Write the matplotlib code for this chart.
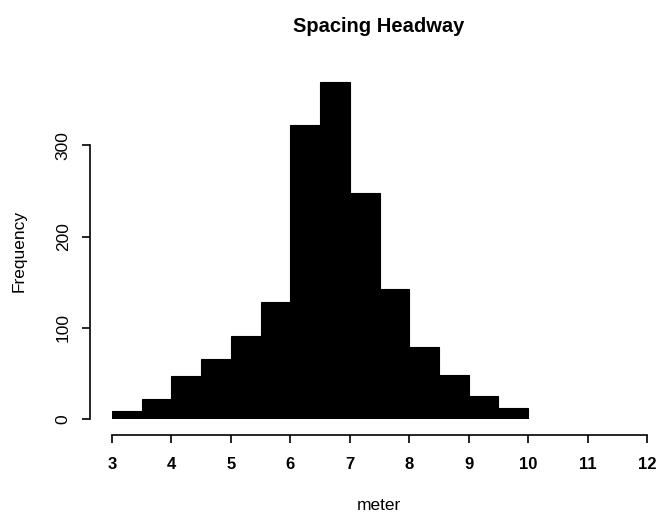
import numpy as np
import matplotlib.pyplot as plt

plt.rcParams['font.family'] = ['Liberation Sans', 'DejaVu Sans']

# histogram of spacing headway, 0.5 m bins from 3 to 10
bin_edges = np.arange(3, 10.01, 0.5)
counts = [9, 22, 47, 66, 91, 128, 322, 369, 248, 143, 79, 49, 25, 12]
x_ticks = [3, 4, 5, 6, 7, 8, 9, 10, 11, 12]
y_ticks = [0, 100, 200, 300]

fig = plt.figure(figsize=(6.57, 5.14), dpi=100)
ax = fig.add_axes([0.1705, 0.1842, 0.8143, 0.6615])

ax.hist(bin_edges[:-1], bins=bin_edges, weights=counts,
        color='black', edgecolor='black', linewidth=0.8)

ax.set_xlim(3, 12)
ax.set_ylim(0, 372)

# R-style detached axes
ax.spines['top'].set_visible(False)
ax.spines['right'].set_visible(False)
ax.spines['left'].set_position(('outward', 15.8))
ax.spines['bottom'].set_position(('outward', 11.0))
ax.spines['left'].set_bounds(0, 300)
ax.spines['bottom'].set_bounds(3, 12)
ax.spines['left'].set_linewidth(1.2)
ax.spines['bottom'].set_linewidth(1.2)

ax.set_xticks(x_ticks)
ax.set_xticklabels([str(t) for t in x_ticks], fontsize=12, fontweight='bold')
ax.set_yticks(y_ticks)
ax.set_yticklabels([str(t) for t in y_ticks], fontsize=12.5, rotation=90, va='center')
ax.tick_params(axis='both', length=6, width=1.2, color='black')
ax.tick_params(axis='x', pad=10)
ax.tick_params(axis='y', pad=8)

fig.text(379 / 657, 1 - 26 / 514, 'Spacing Headway', ha='center', va='center',
         fontsize=14.5, fontweight='bold')
fig.text(379 / 657, 1 - 506 / 514, 'meter', ha='center', va='center', fontsize=12.5)
fig.text(19 / 657, 1 - 251 / 514, 'Frequency', ha='center', va='center',
         fontsize=12.5, rotation=90)

fig.savefig('out.png', dpi=100, facecolor='white')
